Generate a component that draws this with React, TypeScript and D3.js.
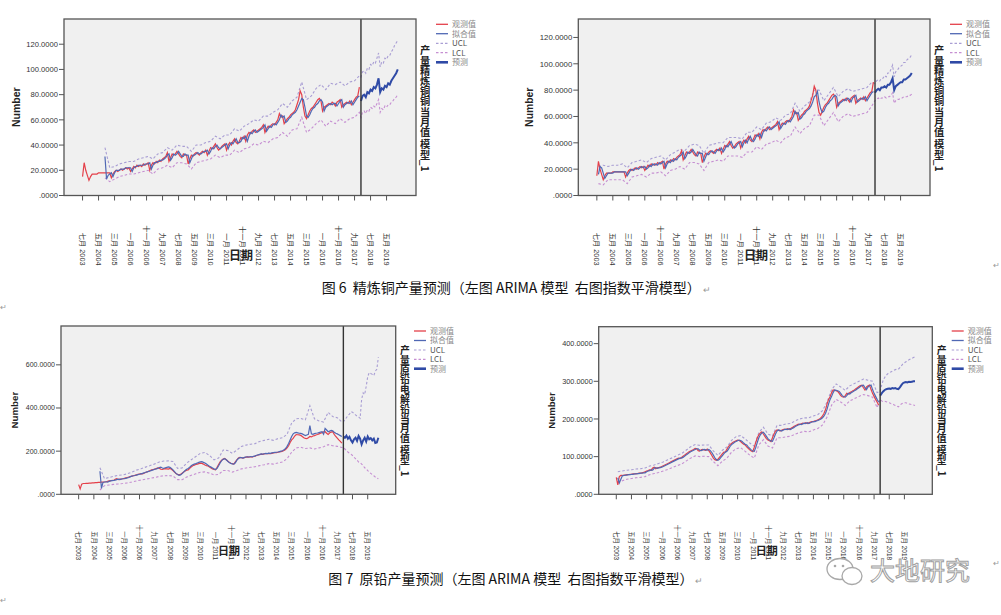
import React from "react";
import * as d3 from "d3";

// ---------- shared axis data ----------
const TICK_MONTHS = [0, 10, 20, 30, 40, 50, 60, 70, 80, 90, 100, 110, 120, 130, 140, 150, 160, 170, 180, 190];
const TICK_LABELS = ["七月 2003", "五月 2004", "三月 2005", "一月 2006", "十一月 2006", "九月 2007", "七月 2008", "五月 2009", "三月 2010", "一月 2011", "十一月 2011", "九月 2012", "七月 2013", "五月 2014", "三月 2015", "一月 2016", "十一月 2016", "九月 2017", "七月 2018", "五月 2019"];
const LEGEND_LABELS = ["观测值", "拟合值", "UCL", "LCL", "预测"];
const FC_START = 174; // Jan 2018 (months since Jul 2003)

// ---------- copper (refined) observed, monthly from Jul 2003 ----------
const CU_OBS = [
  15, 26, 20, 16, 12, 15,
  17, 17, 17, 17, 18, 18, 18, 18, 18, 18, 18, 18,
  14, 17, 19, 20, 19, 20, 21, 20, 21, 22, 21, 22,
  19, 21, 23, 22, 24, 23, 24, 23, 25, 24, 25, 26,
  20, 24, 26, 25, 27, 26, 28, 27, 29, 30, 31, 34,
  27, 30, 33, 32, 33, 35, 33, 31, 30, 33, 32, 32,
  25, 29, 32, 31, 33, 34, 33, 32, 34, 35, 34, 36,
  32, 35, 38, 37, 39, 41, 38, 36, 37, 39, 40, 41,
  36, 40, 42, 40, 43, 45, 42, 41, 43, 46, 45, 47,
  43, 48, 50, 49, 51, 52, 50, 51, 52, 53, 54, 56,
  50, 53, 55, 54, 56, 57, 56, 58, 60, 65, 62, 63,
  57, 59, 61, 62, 64, 65, 66, 68, 72, 76, 83, 80,
  70, 63, 61, 64, 67, 69, 70, 72, 74, 76, 77, 75,
  67, 70, 71, 72, 73, 72, 74, 73, 71, 74, 75, 76,
  70, 72, 73, 74, 73, 75, 72, 74, 76, 78, 79, 86,
];

// copper ARIMA (left): fitted from Sep 2004 (month 14)
const CU_ARIMA_FIT = [
  31, 13, 16, 17, 18, 15, 18, 20, 20, 20, 21, 21, 21, 22, 22, 22,
  22, 19, 22, 23, 23, 24, 24, 24, 24, 25, 25, 25,
  26, 21, 24, 26, 26, 27, 27, 28, 28, 29, 30, 32,
  33, 28, 30, 33, 32, 33, 35, 33, 31, 31, 33, 32,
  32, 26, 29, 32, 32, 33, 34, 33, 33, 34, 35, 35,
  36, 33, 35, 38, 37, 39, 40, 38, 37, 38, 39, 40,
  41, 37, 40, 42, 41, 43, 45, 42, 42, 43, 46, 45,
  47, 43, 47, 50, 49, 51, 52, 50, 51, 52, 53, 54,
  56, 51, 53, 55, 54, 56, 57, 56, 58, 60, 64, 62,
  63, 58, 59, 61, 62, 64, 65, 66, 68, 71, 74, 77,
  76, 70, 63, 62, 64, 67, 69, 70, 72, 73, 75, 76,
  74, 67, 70, 71, 72, 73, 72, 73, 73, 71, 73, 75,
  76, 70, 72, 73, 74, 73, 75, 72, 74, 76, 78, 79,
];
// quarterly-sampled confidence limits in fit period, from month 14
const CU_ARIMA_UCL = [38, 22, 23, 25, 26, 27, 27, 29, 30, 31, 29, 33, 34, 38, 36, 40, 39, 39, 35, 40, 40, 42, 43, 47, 45, 48, 48, 53, 51, 55, 57, 60, 59, 63, 63, 66, 68, 73, 70, 75, 78, 90, 76, 79, 85, 88, 84, 89, 88, 90, 87, 90, 91, 95];
const CU_ARIMA_LCL = [14, 11, 13, 15, 16, 17, 17, 18, 19, 20, 17, 21, 22, 24, 22, 26, 26, 25, 21, 26, 27, 28, 29, 32, 30, 32, 32, 36, 34, 37, 38, 41, 40, 43, 42, 45, 46, 50, 47, 52, 53, 62, 50, 53, 57, 60, 55, 59, 57, 61, 58, 61, 62, 66];
const CU_ARIMA_FC = [75, 79, 80, 78, 82, 81, 84, 83, 86, 85, 88, 93, 82, 85, 84, 87, 86, 89, 88, 91, 93, 95, 97, 100];
const CU_ARIMA_FC_UCL = [94, 98, 99, 97, 101, 100, 104, 103, 106, 105, 109, 113, 102, 106, 105, 109, 108, 111, 111, 114, 116, 119, 121, 123];
const CU_ARIMA_FC_LCL = [62, 66, 67, 65, 68, 67, 70, 69, 71, 70, 73, 76, 66, 69, 68, 71, 70, 72, 72, 74, 75, 77, 78, 80];

// copper exponential smoothing (right): fitted from Aug 2003 (month 1)
const CU_ES_FIT = [
  16, 22, 21, 17, 13,
  15, 17, 17, 17, 17, 18, 18, 18, 18, 18, 18, 18,
  18, 15, 17, 19, 20, 19, 20, 21, 20, 21, 22, 21,
  22, 20, 21, 23, 22, 24, 23, 24, 23, 25, 24, 25,
  26, 21, 24, 26, 25, 27, 26, 28, 27, 29, 30, 31,
  33, 28, 30, 33, 32, 33, 35, 33, 31, 30, 33, 32,
  32, 26, 29, 32, 31, 33, 34, 33, 32, 34, 35, 34,
  36, 33, 35, 38, 37, 39, 41, 38, 36, 37, 39, 40,
  41, 37, 40, 42, 40, 43, 45, 42, 41, 43, 46, 45,
  47, 44, 48, 50, 49, 51, 52, 50, 51, 52, 53, 54,
  56, 51, 53, 55, 54, 56, 57, 56, 58, 60, 64, 62,
  63, 58, 59, 61, 62, 64, 65, 66, 68, 71, 75, 76,
  79, 71, 66, 63, 64, 67, 69, 70, 72, 73, 75, 76,
  75, 68, 70, 71, 72, 73, 72, 74, 73, 71, 74, 75,
  76, 71, 72, 73, 74, 73, 75, 72, 74, 76, 78, 79,
];
const CU_ES_UCL = [22, 23, 22, 23, 23, 24, 21, 25, 26, 27, 25, 28, 29, 30, 27, 31, 33, 35, 34, 38, 39, 38, 32, 38, 39, 40, 40, 44, 44, 44, 43, 48, 48, 52, 50, 55, 56, 59, 57, 61, 62, 70, 64, 68, 71, 80, 80, 72, 77, 82, 75, 79, 81, 79, 80, 81, 82, 86];
const CU_ES_LCL = [9, 8, 12, 12, 12, 12, 9, 14, 15, 16, 14, 17, 17, 18, 15, 19, 20, 22, 20, 25, 25, 24, 19, 25, 26, 27, 26, 30, 30, 30, 29, 33, 33, 37, 35, 39, 40, 42, 40, 44, 45, 52, 47, 51, 53, 61, 61, 53, 58, 63, 56, 60, 62, 60, 61, 62, 63, 68];
const CU_ES_FC = [78, 80, 81, 80, 82, 82, 83, 82, 84, 84, 86, 89, 80, 83, 84, 85, 86, 86, 88, 88, 89, 90, 91, 93];
const CU_ES_FC_UCL = [85, 87, 88, 87, 89, 89, 91, 90, 93, 93, 96, 99, 90, 94, 95, 97, 98, 99, 101, 101, 103, 104, 105, 107];
const CU_ES_FC_LCL = [72, 73, 74, 73, 74, 74, 75, 74, 75, 75, 76, 78, 70, 72, 73, 73, 74, 74, 75, 75, 75, 76, 76, 77];

// ---------- primary lead / electrolytic lead observed, monthly from Jul 2003 ----------
const PB_OBS = [
  45, 25, 47, 50, 50, 51,
  51, 52, 52, 53, 53, 54, 54, 55, 55, 56, 56, 57,
  58, 60, 62, 63, 65, 64, 70, 72, 68, 70, 71, 72,
  74, 76, 78, 80, 82, 84, 86, 88, 90, 92, 94, 96,
  95, 98, 101, 104, 107, 110, 113, 115, 117, 119, 122, 121,
  116, 115, 118, 119, 118, 117, 120, 116, 110, 103, 96, 92,
  90, 93, 98, 103, 108, 112, 113, 120, 127, 132, 135, 138,
  140, 142, 144, 143, 140, 136, 133, 131, 126, 122, 118, 115,
  113, 125, 138, 150, 158, 163, 166, 160, 154, 148, 144, 142,
  140, 150, 160, 168, 171, 170, 168, 170, 172, 173, 172, 174,
  172, 175, 177, 180, 182, 184, 186, 185, 187, 189, 188, 190,
  188, 190, 192, 193, 193, 195, 196, 198, 200, 203, 208, 215,
  225, 240, 252, 259, 270, 277, 276, 275, 273, 268, 262, 259,
  258, 262, 268, 266, 270, 272, 275, 277, 280, 283, 286, 289,
  290, 283, 277, 285, 288, 290, 278, 268, 260, 252, 245, 237,
];

// lead ARIMA (left): fitted from Sep 2004 (month 14)
const PB_ARIMA_FIT = [
  107, 28, 55, 57, 58, 56, 60, 62, 63, 64, 66, 68, 70, 68, 70, 72,
  72, 74, 76, 78, 82, 84, 86, 87, 89, 91, 93, 95,
  97, 99, 102, 104, 106, 108, 111, 113, 116, 118, 120, 124,
  126, 122, 120, 123, 125, 127, 125, 120, 113, 105, 97, 92,
  88, 90, 96, 103, 110, 116, 120, 126, 132, 137, 140, 142,
  145, 148, 150, 151, 148, 145, 140, 135, 130, 126, 122, 118,
  115, 120, 132, 145, 156, 162, 165, 160, 153, 147, 143, 141,
  140, 146, 158, 166, 170, 170, 168, 171, 173, 174, 173, 175,
  174, 176, 178, 181, 183, 185, 187, 186, 188, 190, 189, 191,
  190, 192, 193, 194, 195, 196, 198, 200, 202, 206, 212, 222,
  235, 252, 268, 280, 285, 287, 285, 283, 282, 280, 276, 272,
  275, 278, 318, 280, 278, 281, 283, 284, 286, 288, 290, 278,
  305, 298, 290, 293, 296, 294, 288, 283, 280, 276, 272, 268,
];
const PB_ARIMA_UCL = [123, 72, 78, 83, 88, 90, 95, 103, 112, 118, 126, 133, 141, 150, 154, 155, 152, 120, 122, 145, 160, 175, 190, 194, 180, 160, 168, 205, 203, 190, 205, 222, 228, 232, 235, 245, 250, 255, 250, 258, 262, 278, 330, 350, 352, 345, 410, 350, 340, 335, 380, 360, 355, 335];
const PB_ARIMA_LCL = [20, 40, 43, 46, 48, 50, 53, 57, 62, 66, 70, 74, 78, 83, 86, 87, 85, 68, 68, 80, 88, 95, 102, 104, 98, 90, 92, 110, 110, 103, 110, 118, 122, 125, 128, 133, 137, 142, 140, 145, 150, 165, 195, 215, 218, 212, 215, 210, 215, 220, 230, 225, 222, 217];
const PB_ARIMA_FC = [268, 262, 272, 258, 266, 250, 240, 255, 262, 248, 270, 258, 232, 250, 262, 245, 268, 255, 260, 250, 258, 238, 240, 262];
const PB_ARIMA_FC_UCL = [336, 345, 355, 365, 372, 383, 380, 375, 368, 362, 359, 352, 440, 470, 462, 500, 545, 564, 560, 556, 550, 570, 580, 635];
const PB_ARIMA_FC_LCL = [217, 210, 203, 196, 190, 186, 180, 172, 165, 158, 150, 147, 140, 133, 123, 118, 110, 103, 97, 91, 86, 80, 76, 72];

// lead exponential smoothing (right): fitted from Aug 2003 (month 1)
const PB_ES_FIT = [
  44, 30, 40, 49, 50,
  51, 51, 52, 52, 53, 53, 54, 54, 55, 55, 56, 56,
  57, 57, 60, 62, 63, 65, 64, 69, 71, 69, 70, 71,
  72, 74, 76, 78, 80, 82, 84, 86, 88, 90, 92, 94,
  96, 96, 98, 101, 104, 107, 110, 113, 115, 117, 119, 121,
  121, 117, 116, 118, 119, 118, 117, 119, 116, 111, 104, 97,
  92, 90, 93, 98, 103, 108, 112, 114, 120, 127, 132, 135,
  138, 140, 142, 144, 143, 140, 136, 133, 131, 126, 122, 118,
  115, 114, 125, 138, 150, 158, 163, 165, 160, 154, 148, 144,
  142, 141, 150, 160, 168, 171, 170, 168, 170, 172, 173, 172,
  174, 172, 175, 177, 180, 182, 184, 186, 185, 187, 189, 188,
  190, 188, 190, 192, 193, 193, 195, 196, 198, 200, 203, 208,
  215, 226, 240, 252, 260, 270, 277, 276, 275, 273, 268, 262,
  259, 258, 262, 268, 266, 270, 272, 275, 277, 280, 283, 286,
  289, 290, 283, 278, 285, 288, 290, 278, 268, 260, 252, 245,
];
const PB_ES_UCL = [60, 62, 64, 65, 67, 68, 70, 75, 78, 82, 86, 92, 97, 103, 108, 117, 126, 132, 130, 131, 131, 115, 103, 117, 126, 143, 153, 156, 147, 136, 128, 164, 178, 160, 155, 183, 183, 187, 188, 195, 200, 203, 203, 208, 212, 222, 245, 278, 293, 285, 276, 288, 294, 300, 306, 303, 300, 270];
const PB_ES_LCL = [30, 36, 40, 42, 44, 45, 47, 52, 55, 58, 62, 66, 71, 76, 80, 88, 96, 102, 100, 101, 100, 87, 76, 88, 96, 112, 121, 124, 114, 104, 96, 131, 145, 128, 123, 150, 150, 153, 154, 160, 164, 167, 166, 171, 175, 184, 205, 237, 252, 245, 236, 248, 254, 260, 265, 262, 258, 230];
const PB_ES_FC = [262, 268, 273, 277, 279, 280, 281, 280, 282, 281, 282, 280, 279, 284, 290, 295, 297, 298, 297, 299, 298, 299, 300, 300];
const PB_ES_FC_UCL = [272, 290, 303, 310, 316, 320, 322, 325, 327, 329, 331, 332, 332, 336, 341, 346, 349, 352, 354, 357, 359, 361, 363, 365];
const PB_ES_FC_LCL = [252, 248, 246, 247, 246, 244, 243, 241, 240, 238, 236, 234, 232, 236, 240, 242, 243, 243, 241, 240, 239, 238, 237, 236];

// ---------- styling ----------
const C_OBS = "#e4404a";
const C_FIT = "#5068b4";
const C_FC = "#2f4aa6";
const C_UCL = "#a99ed4";
const C_LCL = "#c68fd2";
const LATIN = "Arial, 'Liberation Sans', 'Noto Sans CJK SC', sans-serif";
const CJK = "'Noto Sans CJK SC', 'Liberation Sans', sans-serif";

type Pt = [number, number];
const pts = (vals: number[], start: number, step = 1): Pt[] => vals.map((v, i) => [start + i * step, v]);

interface PanelCfg {
  L: number; T: number; R: number; B: number;
  yMax: number; yTicks: number[];
  yFont: number; xFont: number; labelBottom: number;
  numberX: number; numberFont: number;
  dateX: number; dateY: number; dateFont: number;
  titleX: number; titleY: number; titleFont: number; title: string;
  legX: number; legRows: number[];
  obs: number[]; fit: number[]; fitStart: number;
  ucl: number[]; lcl: number[]; bandStart: number;
  fc: number[]; fcU: number[]; fcL: number[];
}

function Panel({ c }: { c: PanelCfg }) {
  const x = d3.scaleLinear().domain([-11.6, 208.4]).range([c.L, c.R]);
  const y = d3.scaleLinear().domain([0, c.yMax]).range([c.B, c.T]);
  const line = d3.line<Pt>().x((d) => x(d[0])).y((d) => y(d[1]));
  const fmt = d3.format(".4f");
  const uclPts = [...pts(c.ucl, c.bandStart, 3), ...pts(c.fcU, FC_START)];
  const lclPts = [...pts(c.lcl, c.bandStart, 3), ...pts(c.fcL, FC_START)];
  const midY = (c.T + c.B) / 2;
  const legendStyles = [
    { stroke: C_OBS, w: 1.3, dash: undefined },
    { stroke: C_FIT, w: 1.3, dash: undefined },
    { stroke: C_UCL, w: 1.2, dash: "2.5,2" },
    { stroke: C_LCL, w: 1.2, dash: "2.5,2" },
    { stroke: C_FC, w: 2.6, dash: undefined },
  ];
  return (
    <g>
      <rect x={c.L} y={c.T} width={c.R - c.L} height={c.B - c.T} fill="#f0f0f0" />
      <path d={line(uclPts) || ""} fill="none" stroke={C_UCL} strokeWidth={1.1} strokeDasharray="2.5,2" />
      <path d={line(lclPts) || ""} fill="none" stroke={C_LCL} strokeWidth={1.1} strokeDasharray="2.5,2" />
      <path d={line(pts(c.obs, 0)) || ""} fill="none" stroke={C_OBS} strokeWidth={1.2} />
      <path d={line(pts(c.fit, c.fitStart)) || ""} fill="none" stroke={C_FIT} strokeWidth={1.2} />
      <path d={line(pts(c.fc, FC_START)) || ""} fill="none" stroke={C_FC} strokeWidth={2} />
      <line x1={x(FC_START)} x2={x(FC_START)} y1={c.T} y2={c.B} stroke="#333" strokeWidth={1.4} />
      <rect x={c.L} y={c.T} width={c.R - c.L} height={c.B - c.T} fill="none" stroke="#555" strokeWidth={1.3} />
      {/* y axis */}
      {c.yTicks.map((t) => (
        <g key={t}>
          <line x1={c.L - 5} x2={c.L} y1={y(t)} y2={y(t)} stroke="#555" strokeWidth={1} />
          <text x={c.L - 6} y={y(t)} dy="0.35em" textAnchor="end" fontSize={c.yFont} fontFamily={LATIN} fill="#333">
            {t === 0 ? ".0000" : fmt(t)}
          </text>
        </g>
      ))}
      <text transform={`translate(${c.numberX},${midY}) rotate(-90)`} textAnchor="middle" dy="0.35em" fontSize={c.numberFont} fontWeight="bold" fontFamily={LATIN} fill="#222">Number</text>
      {/* x axis */}
      {TICK_MONTHS.map((m, i) => (
        <g key={m}>
          <line x1={x(m)} x2={x(m)} y1={c.B} y2={c.B + 5} stroke="#555" strokeWidth={1} />
          <text transform={`translate(${x(m)},${c.labelBottom}) rotate(90)`} textAnchor="end" dy="0.35em" fontSize={c.xFont} fontFamily={LATIN} fill="#333">
            {TICK_LABELS[i]}
          </text>
        </g>
      ))}
      <text x={c.dateX} y={c.dateY} textAnchor="middle" fontSize={c.dateFont} fontWeight="bold" fontFamily={CJK} fill="#222">日期</text>
      {/* right axis title, vertical upright CJK */}
      <text x={c.titleX} y={c.titleY} textAnchor="middle" fontSize={c.titleFont} fontWeight="bold" fontFamily={CJK} fill="#222" style={{ writingMode: "vertical-rl", whiteSpace: "pre" } as any}>
        {c.title}
      </text>
      {/* legend */}
      {LEGEND_LABELS.map((lab, i) => (
        <g key={lab}>
          <line x1={c.legX} x2={c.legX + 12} y1={c.legRows[i]} y2={c.legRows[i]} stroke={legendStyles[i].stroke} strokeWidth={legendStyles[i].w} strokeDasharray={legendStyles[i].dash} />
          <text x={c.legX + 16} y={c.legRows[i]} dy="0.35em" fontSize={8} fontFamily={CJK} fill={i === 2 || i === 3 ? "#555" : "#8a8a8a"}>{lab}</text>
        </g>
      ))}
    </g>
  );
}

const TOP_ROWS = [24.3, 33.7, 43.3, 52.7, 62.3];
const BOT_ROWS = [331, 340.5, 350, 359.3, 368.7];

const PANELS: PanelCfg[] = [
  {
    L: 64, T: 19, R: 416, B: 195.5, yMax: 140, yTicks: [0, 20, 40, 60, 80, 100, 120],
    yFont: 7.6, xFont: 7.3, labelBottom: 265.5, numberX: 16, numberFont: 10.5,
    dateX: 241, dateY: 260, dateFont: 12, titleX: 425, titleY: 108.5, titleFont: 10.2,
    title: "产量精炼铜铜当月值 模型_1", legX: 436, legRows: TOP_ROWS,
    obs: CU_OBS, fit: CU_ARIMA_FIT, fitStart: 14, ucl: CU_ARIMA_UCL, lcl: CU_ARIMA_LCL, bandStart: 14,
    fc: CU_ARIMA_FC, fcU: CU_ARIMA_FC_UCL, fcL: CU_ARIMA_FC_LCL,
  },
  {
    L: 578.3, T: 19, R: 930, B: 195.5, yMax: 134, yTicks: [0, 20, 40, 60, 80, 100, 120],
    yFont: 7.8, xFont: 7.3, labelBottom: 265.5, numberX: 529, numberFont: 10.4,
    dateX: 756, dateY: 260, dateFont: 12, titleX: 939, titleY: 108.5, titleFont: 10.2,
    title: "产量精炼铜铜当月值 模型_1", legX: 950, legRows: TOP_ROWS,
    obs: CU_OBS, fit: CU_ES_FIT, fitStart: 1, ucl: CU_ES_UCL, lcl: CU_ES_LCL, bandStart: 1,
    fc: CU_ES_FC, fcU: CU_ES_FC_UCL, fcL: CU_ES_FC_LCL,
  },
  {
    L: 61, T: 326, R: 395.7, B: 494.3, yMax: 780, yTicks: [0, 200, 400, 600],
    yFont: 7, xFont: 6.4, labelBottom: 560, numberX: 15, numberFont: 9.7,
    dateX: 229, dateY: 555, dateFont: 11, titleX: 405, titleY: 411, titleFont: 9.8,
    title: "产量原铅电解铅当月值 模型_1", legX: 414, legRows: BOT_ROWS,
    obs: PB_OBS, fit: PB_ARIMA_FIT, fitStart: 14, ucl: PB_ARIMA_UCL, lcl: PB_ARIMA_LCL, bandStart: 14,
    fc: PB_ARIMA_FC, fcU: PB_ARIMA_FC_UCL, fcL: PB_ARIMA_FC_LCL,
  },
  {
    L: 598.7, T: 326.7, R: 932.3, B: 494.3, yMax: 445, yTicks: [0, 100, 200, 300, 400],
    yFont: 7.3, xFont: 6.4, labelBottom: 560, numberX: 551.7, numberFont: 9.6,
    dateX: 766.7, dateY: 555, dateFont: 11, titleX: 941.7, titleY: 411, titleFont: 9.8,
    title: "产量原铅电解铅当月值 模型_1", legX: 951.7, legRows: BOT_ROWS,
    obs: PB_OBS, fit: PB_ES_FIT, fitStart: 1, ucl: PB_ES_UCL, lcl: PB_ES_LCL, bandStart: 1,
    fc: PB_ES_FC, fcU: PB_ES_FC_UCL, fcL: PB_ES_FC_LCL,
  },
];

const CAPTION_6 = "图 6  精炼铜产量预测（左图 ARIMA 模型  右图指数平滑模型）";
const CAPTION_7 = "图 7  原铅产量预测（左图 ARIMA 模型  右图指数平滑模型）";

export default function App() {
  return (
    <svg width={1001} height={615} style={{ position: "absolute", left: 0, top: 0, background: "#fff" }}>
      <rect x={0} y={0} width={1001} height={615} fill="#fff" />
      {PANELS.map((p, i) => <Panel key={i} c={p} />)}
      <text x={321.7} y={292.5} fontSize={14} fontFamily={CJK} fill="#111" style={{ whiteSpace: "pre" } as any}>
        {CAPTION_6}<tspan fill="#999" fontSize={9}> ↵</tspan>
      </text>
      <text x={328.3} y={583.5} fontSize={14} fontFamily={CJK} fill="#111" style={{ whiteSpace: "pre" } as any}>
        {CAPTION_7}<tspan fill="#999" fontSize={9}> ↵</tspan>
      </text>
      <text x={993} y={268} fontSize={8} fill="#999" fontFamily={LATIN}>↵</text>
      <text x={0} y={310} fontSize={8} fill="#999" fontFamily={LATIN}>↵</text>
      <text x={0} y={603} fontSize={8} fill="#999" fontFamily={LATIN}>↵</text>
      <text x={993} y={566} fontSize={8} fill="#999" fontFamily={LATIN}>↵</text>
      {/* watermark */}
      <g fill="#fff" stroke="#a8a8a8" strokeWidth={1.3}>
        <ellipse cx={840} cy={569} rx={13} ry={10.5} />
        <ellipse cx={852} cy={576} rx={10} ry={8.5} />
        <circle cx={835} cy={566} r={1.3} fill="#a8a8a8" stroke="none" />
        <circle cx={843} cy={566} r={1.3} fill="#a8a8a8" stroke="none" />
      </g>
      <text x={870} y={580} fontSize={25} fontFamily={CJK} fill="#fff" stroke="#a0a0a0" strokeWidth={1}>大地研究</text>
    </svg>
  );
}
